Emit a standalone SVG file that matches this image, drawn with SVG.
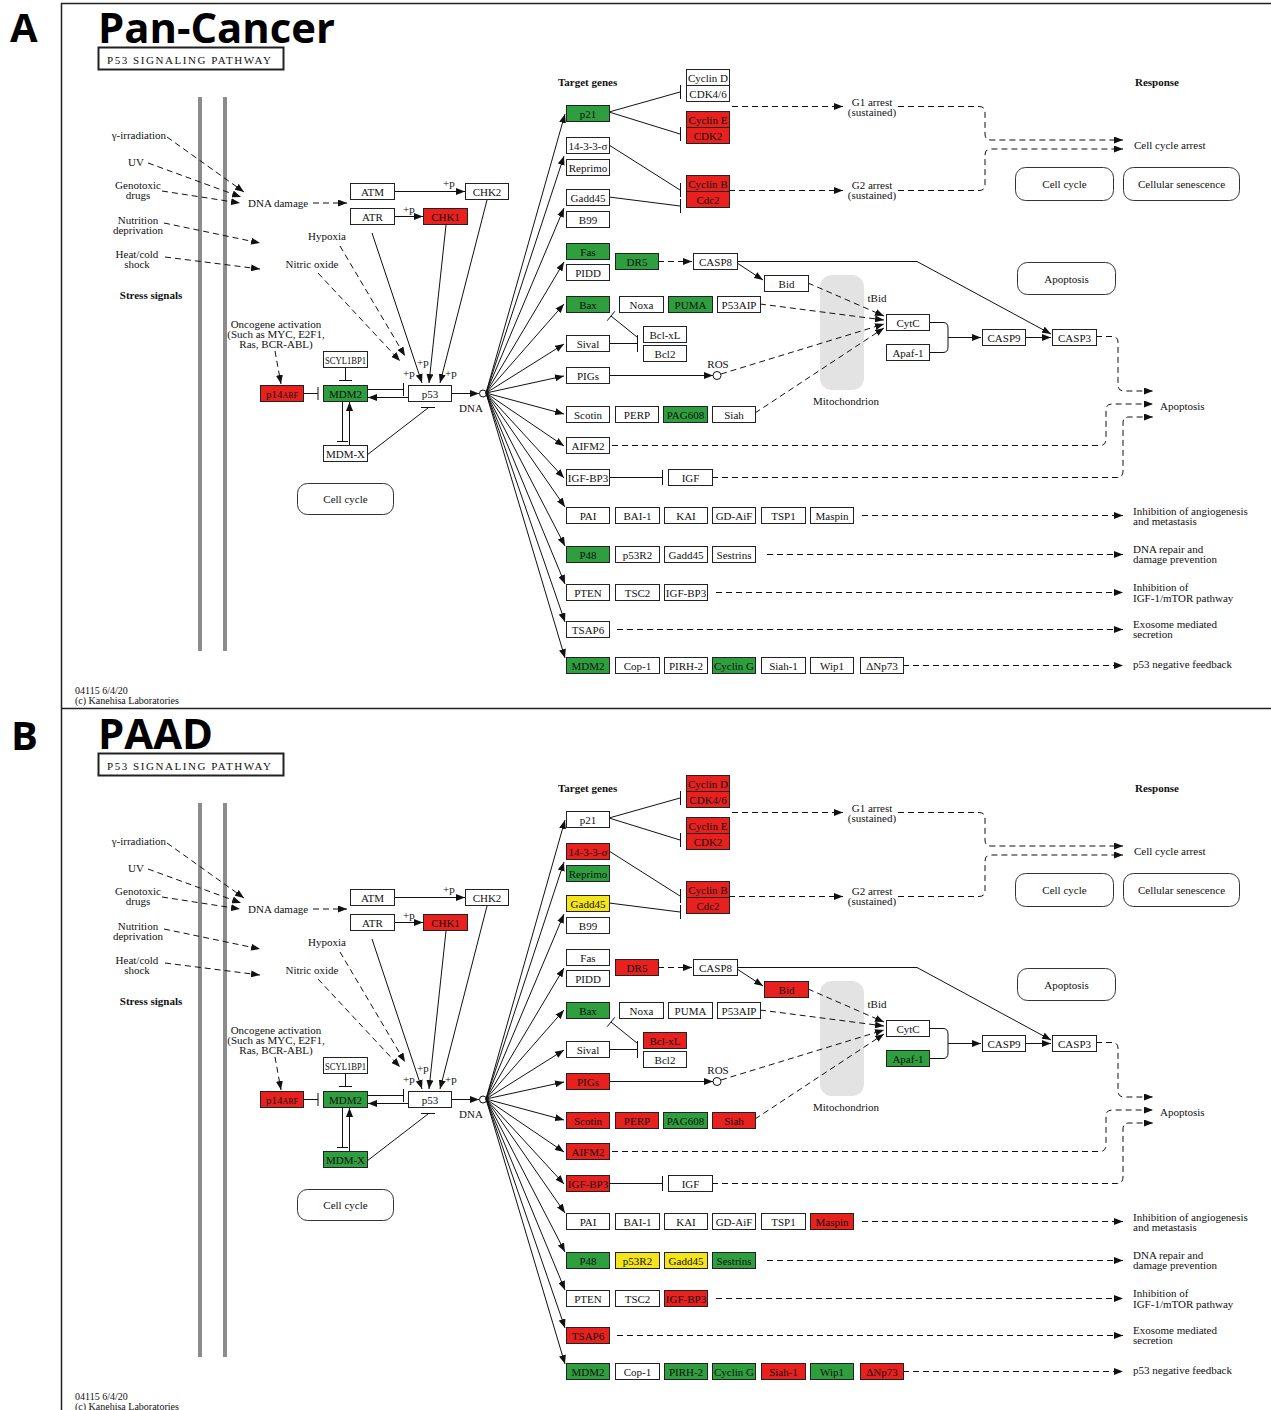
<svg xmlns="http://www.w3.org/2000/svg" width="1271" height="1410" viewBox="0 0 1271 1410">
<defs>
<style>
.t{font-family:"Liberation Serif","Times New Roman",serif;font-size:11px;fill:#111}
.s{font-size:10px}
.c{text-anchor:middle}
.en{text-anchor:end}
.b{font-weight:bold}
.big{font-family:"Open Sans","Liberation Sans",Arial,sans-serif;font-weight:bold;fill:#000}
.w{fill:#fff;stroke:#222;stroke-width:1}
.r{fill:#e8211f;stroke:#222;stroke-width:1}
.g{fill:#2e9e3e;stroke:#222;stroke-width:1}
.y{fill:#f3e41b;stroke:#222;stroke-width:1}
.m{fill:#fff;stroke:#333;stroke-width:1}
.e{fill:none;stroke:#111;stroke-width:1}
.d{stroke-dasharray:6 4}
.a{marker-end:url(#ah)}
.fr{fill:none;stroke:#222;stroke-width:1.5}
.gl{stroke:#8c8c8c;stroke-width:4}
</style>
<marker id="ah" viewBox="0 0 9 7" refX="9" refY="3.5" markerWidth="9" markerHeight="7" markerUnits="userSpaceOnUse" orient="auto"><path d="M0,0 L9,3.5 L0,7 z" fill="#111"/></marker>
</defs>
<rect width="1271" height="1410" fill="#fff"/>
<g id="frame">
<path class="fr" d="M61.5,3 V1410 M61,3.5 H1271 M61,708.5 H1271"/>
</g>

<!-- ================= PANEL A ================= -->
<g id="panelA">
<text class="big" x="10" y="42" font-size="40">A</text>
<text class="big" x="98" y="43" font-size="42" textLength="237" lengthAdjust="spacingAndGlyphs">Pan-Cancer</text>
<g id="a-labels">
<rect x="98.5" y="47.5" width="185" height="22" fill="none" stroke="#222" stroke-width="2"/>
<text class="t" x="107" y="64" font-size="13" textLength="164" lengthAdjust="spacing">P53 SIGNALING PATHWAY</text>
<line class="gl" x1="200" y1="97" x2="200" y2="651"/>
<line class="gl" x1="225" y1="97" x2="225" y2="651"/>
<rect x="820" y="275" width="44" height="115" rx="12" fill="#e3e3e3"/>
<text class="t en" x="166" y="139">γ-irradiation</text>
<text class="t c" x="136" y="166">UV</text>
<text class="t c" x="138" y="189">Genotoxic</text>
<text class="t c" x="138" y="199">drugs</text>
<text class="t c" x="138" y="224">Nutrition</text>
<text class="t c" x="138" y="234">deprivation</text>
<text class="t c" x="137" y="258">Heat/cold</text>
<text class="t c" x="137" y="268">shock</text>
<text class="t c b" x="151" y="299">Stress signals</text>
<text class="t" x="248" y="207">DNA damage</text>
<text class="t c" x="327" y="240">Hypoxia</text>
<text class="t c" x="312" y="268">Nitric oxide</text>
<text class="t" x="443" y="187">+p</text>
<text class="t" x="403" y="213">+p</text>
<text class="t" x="417" y="366">+p</text>
<text class="t" x="403" y="377">+p</text>
<text class="t" x="445" y="377">+p</text>
<text class="t c" x="276" y="328" font-size="10.5">Oncogene activation</text>
<text class="t c" x="276" y="338" font-size="10.5">(Such as MYC, E2F1,</text>
<text class="t c" x="276" y="348" font-size="10.5">Ras, BCR-ABL)</text>
<text class="t c" x="471" y="412">DNA</text>
<text class="t b" x="558" y="86">Target genes</text>
<text class="t c" x="872" y="106">G1 arrest</text>
<text class="t c" x="872" y="116">(sustained)</text>
<text class="t c" x="872" y="189">G2 arrest</text>
<text class="t c" x="872" y="199">(sustained)</text>
<text class="t c b" x="1157" y="86">Response</text>
<text class="t" x="1134" y="149">Cell cycle arrest</text>
<text class="t c" x="877" y="302">tBid</text>
<text class="t c" x="718" y="368">ROS</text>
<text class="t c" x="846" y="405">Mitochondrion</text>
<text class="t" x="1160" y="410">Apoptosis</text>
<text class="t" x="1133" y="515">Inhibition of angiogenesis</text>
<text class="t" x="1133" y="525">and metastasis</text>
<text class="t" x="1133" y="553">DNA repair and</text>
<text class="t" x="1133" y="563">damage prevention</text>
<text class="t" x="1133" y="591">Inhibition of</text>
<text class="t" x="1133" y="602">IGF-1/mTOR pathway</text>
<text class="t" x="1133" y="628">Exosome mediated</text>
<text class="t" x="1133" y="638">secretion</text>
<text class="t" x="1133" y="668">p53 negative feedback</text>
<text class="t s" x="75" y="694">04115 6/4/20</text>
<text class="t s" x="75" y="704">(c) Kanehisa Laboratories</text>
</g>
<g id="a-edges">
<path class="e d a" d="M167,137 L244,192"/>
<path class="e d a" d="M148,163 L241,197"/>
<path class="e d a" d="M162,191 L240,203"/>
<path class="e d a" d="M164,223 L260,243"/>
<path class="e d a" d="M165,257 L260,269"/>
<path class="e d a" d="M313,203 L347,203"/>
<path class="e d a" d="M340,246 L405,356"/>
<path class="e d a" d="M318,273 L400,361"/>
<path class="e d a" d="M275,351 L281,384"/>
<path class="e a" d="M394.5,191.5 H465"/>
<path class="e a" d="M394.5,216.5 H423"/>
<path class="e a" d="M372,233 L422,383"/>
<path class="e a" d="M446,225 L429,383"/>
<path class="e a" d="M487,200 L440,383"/>
<path class="e" d="M303,393.5 H318 M318,387 V400"/>
<path class="e" d="M345.5,367 V380 M339,380.5 H352"/>
<path class="e" d="M367,389.5 H403 M403.5,383 V396"/>
<path class="e a" d="M408,397.5 H368"/>
<path class="e" d="M342.5,401 V441 M337,441.5 H348"/>
<path class="e a" d="M349.5,445 V402"/>
<path class="e" d="M367,455 L428,408 M421,407.5 H435"/>
<path class="e a" d="M451,393.5 H479"/>
<circle cx="483" cy="393.5" r="3.5" fill="#fff" stroke="#111"/>
<path class="e a" d="M486,393 L565,114"/>
<path class="e a" d="M486,393 L564,156"/>
<path class="e a" d="M486,393 L564,208"/>
<path class="e a" d="M486,393 L564,262"/>
<path class="e a" d="M486,393 L564,304"/>
<path class="e a" d="M486,393 L564,344"/>
<path class="e a" d="M486,393 L564,376"/>
<path class="e a" d="M486,393 L564,414"/>
<path class="e a" d="M486,393 L564,446"/>
<path class="e a" d="M486,393 L564,478"/>
<path class="e a" d="M486,393 L565,507"/>
<path class="e a" d="M486,393 L565,546"/>
<path class="e a" d="M486,393 L565,584"/>
<path class="e a" d="M486,393 L565,622"/>
<path class="e a" d="M486,393 L565,658"/>
<path class="e" d="M609,112 L680,92 M680.5,85 V99"/>
<path class="e" d="M609,112 L680,134 M680.5,127 V141"/>
<path class="e" d="M609,145 L680,190 M680.5,183 V197"/>
<path class="e" d="M609,197 L680,206 M680.5,199 V213"/>
<path class="e d a" d="M732,106.5 H843"/>
<path class="e d a" d="M729,190.5 H843"/>
<path class="e d a" d="M898,106.5 H979 Q985,106.5 985,112 V134 Q985,140 991,140 H1123"/>
<path class="e d a" d="M898,190.5 H979 Q985,190.5 985,185 V155 Q985,149 991,149 H1123"/>
<path class="e d a" d="M658,261.5 H692"/>
<path class="e a" d="M737,263 L763,280"/>
<path class="e a" d="M737,261.5 H917 L1051,334"/>
<path class="e d a" d="M808,283 L884,316"/>
<path class="e d a" d="M760,304 L884,320"/>
<path class="e d a" d="M721,374 L884,324"/>
<path class="e d a" d="M755,413 L884,328"/>
<path class="e" d="M609,343.5 H637 M637.5,335 V352"/>
<path class="e" d="M637,337 L611,316 M614.8,311.3 L607.2,320.7"/>
<path class="e a" d="M609,375.5 H713"/>
<circle cx="717" cy="375.5" r="4" fill="#fff" stroke="#111"/>
<path class="e" d="M929,322.5 H943 Q948,322.5 948,328 V337 M929,352.5 H943 Q948,352.5 948,347 V337"/>
<path class="e a" d="M948,337.5 H981"/>
<path class="e a" d="M1025,337.5 H1051"/>
<path class="e d a" d="M1096,336.5 H1112 Q1118,336.5 1118,342 V385 Q1118,391 1124,391 H1153"/>
<path class="e d a" d="M612,445.5 H1100 Q1106,445.5 1106,439 V410 Q1106,404 1112,404 H1153"/>
<path class="e" d="M609,477.5 H662 M662.5,470 V485"/>
<path class="e d a" d="M712,477.5 H1117 Q1123,477.5 1123,471 V423 Q1123,417 1129,417 H1153"/>
<path class="e d a" d="M862,515.5 H1123"/>
<path class="e d a" d="M767,554.5 H1123"/>
<path class="e d a" d="M716,592.5 H1123"/>
<path class="e d a" d="M617,629.5 H1123"/>
<path class="e d a" d="M903,665.5 H1123"/>
</g>
<g id="a-nodes">
<g id="a-atm"><rect class="w" x="350.5" y="183.5" width="44" height="16"/><text class="t c" x="372.5" y="195.5">ATM</text></g>
<g id="a-atr"><rect class="w" x="350.5" y="208.5" width="44" height="16"/><text class="t c" x="372.5" y="220.5">ATR</text></g>
<g id="a-chk2"><rect class="w" x="465.5" y="183.5" width="43" height="16"/><text class="t c" x="487" y="195.5">CHK2</text></g>
<g id="a-chk1"><rect class="r" x="423.5" y="208.5" width="44" height="16"/><text class="t c" x="445.5" y="220.5">CHK1</text></g>
<g id="a-scyl1bp1"><rect class="w" x="323.5" y="351.5" width="44" height="16"/><text class="t c" x="345.5" y="363.5" textLength="41" lengthAdjust="spacingAndGlyphs">SCYL1BP1</text></g>
<g id="a-p14arf"><rect class="r" x="260.5" y="385.5" width="43" height="16"/><text class="t c" x="282" y="397.5">p14<tspan font-size="8">ARF</tspan></text></g>
<g id="a-mdm2-l"><rect class="g" x="323.5" y="385.5" width="44" height="16"/><text class="t c" x="345.5" y="397.5">MDM2</text></g>
<g id="a-p53"><rect class="w" x="408.5" y="385.5" width="43" height="16"/><text class="t c" x="430" y="397.5">p53</text></g>
<g id="a-mdmx"><rect class="w" x="323.5" y="445.5" width="44" height="16"/><text class="t c" x="345.5" y="457.5">MDM-X</text></g>
<g id="a-cellcycle1"><rect class="m" x="297.5" y="483.5" width="96" height="31" rx="10"/><text class="t c" x="345.5" y="503">Cell cycle</text></g>
<g id="a-p21"><rect class="g" x="566.5" y="105.5" width="43" height="16"/><text class="t c" x="588" y="117.5">p21</text></g>
<g id="a-cycd"><rect class="w" x="686.5" y="69.5" width="43" height="16"/><text class="t c" x="708" y="81.5">Cyclin D</text></g>
<g id="a-cdk46"><rect class="w" x="686.5" y="85.5" width="43" height="16"/><text class="t c" x="708" y="97.5">CDK4/6</text></g>
<g id="a-cyce"><rect class="r" x="686.5" y="111.5" width="43" height="16"/><text class="t c" x="708" y="123.5">Cyclin E</text></g>
<g id="a-cdk2"><rect class="r" x="686.5" y="127.5" width="43" height="16"/><text class="t c" x="708" y="139.5">CDK2</text></g>
<g id="a-1433"><rect class="w" x="566.5" y="137.5" width="43" height="16"/><text class="t c" x="588" y="149.5">14-3-3-σ</text></g>
<g id="a-reprimo"><rect class="w" x="566.5" y="159.5" width="43" height="16"/><text class="t c" x="588" y="171.5">Reprimo</text></g>
<g id="a-gadd45"><rect class="w" x="566.5" y="189.5" width="43" height="16"/><text class="t c" x="588" y="201.5">Gadd45</text></g>
<g id="a-b99"><rect class="w" x="566.5" y="211.5" width="43" height="16"/><text class="t c" x="588" y="223.5">B99</text></g>
<g id="a-cycb"><rect class="r" x="686.5" y="175.5" width="43" height="16"/><text class="t c" x="708" y="187.5">Cyclin B</text></g>
<g id="a-cdc2"><rect class="r" x="686.5" y="191.5" width="43" height="16"/><text class="t c" x="708" y="203.5">Cdc2</text></g>
<g id="a-fas"><rect class="g" x="566.5" y="243.5" width="43" height="16"/><text class="t c" x="588" y="255.5">Fas</text></g>
<g id="a-pidd"><rect class="w" x="566.5" y="264.5" width="43" height="16"/><text class="t c" x="588" y="276.5">PIDD</text></g>
<g id="a-dr5"><rect class="g" x="615.5" y="253.5" width="43" height="16"/><text class="t c" x="637" y="265.5">DR5</text></g>
<g id="a-casp8"><rect class="w" x="693.5" y="253.5" width="44" height="16"/><text class="t c" x="715.5" y="265.5">CASP8</text></g>
<g id="a-bid"><rect class="w" x="764.5" y="275.5" width="44" height="16"/><text class="t c" x="786.5" y="287.5">Bid</text></g>
<g id="a-bax"><rect class="g" x="566.5" y="296.5" width="43" height="16"/><text class="t c" x="588" y="308.5">Bax</text></g>
<g id="a-noxa"><rect class="w" x="619.5" y="296.5" width="44" height="16"/><text class="t c" x="641.5" y="308.5">Noxa</text></g>
<g id="a-puma"><rect class="g" x="668.5" y="296.5" width="44" height="16"/><text class="t c" x="690.5" y="308.5">PUMA</text></g>
<g id="a-p53aip"><rect class="w" x="717.5" y="296.5" width="43" height="16"/><text class="t c" x="739" y="308.5">P53AIP</text></g>
<g id="a-bclxl"><rect class="w" x="643.5" y="326.5" width="43" height="16"/><text class="t c" x="665" y="338.5">Bcl-xL</text></g>
<g id="a-bcl2"><rect class="w" x="643.5" y="345.5" width="43" height="16"/><text class="t c" x="665" y="357.5">Bcl2</text></g>
<g id="a-sival"><rect class="w" x="566.5" y="335.5" width="43" height="16"/><text class="t c" x="588" y="347.5">Sival</text></g>
<g id="a-pigs"><rect class="w" x="566.5" y="367.5" width="43" height="16"/><text class="t c" x="588" y="379.5">PIGs</text></g>
<g id="a-scotin"><rect class="w" x="566.5" y="406.5" width="43" height="16"/><text class="t c" x="588" y="418.5">Scotin</text></g>
<g id="a-perp"><rect class="w" x="615.5" y="406.5" width="43" height="16"/><text class="t c" x="637" y="418.5">PERP</text></g>
<g id="a-pag608"><rect class="g" x="663.5" y="406.5" width="44" height="16"/><text class="t c" x="685.5" y="418.5">PAG608</text></g>
<g id="a-siah"><rect class="w" x="712.5" y="406.5" width="43" height="16"/><text class="t c" x="734" y="418.5">Siah</text></g>
<g id="a-aifm2"><rect class="w" x="566.5" y="437.5" width="43" height="16"/><text class="t c" x="588" y="449.5">AIFM2</text></g>
<g id="a-igfbp3"><rect class="w" x="566.5" y="469.5" width="43" height="16"/><text class="t c" x="588" y="481.5">IGF-BP3</text></g>
<g id="a-igf"><rect class="w" x="668.5" y="469.5" width="44" height="16"/><text class="t c" x="690.5" y="481.5">IGF</text></g>
<g id="a-cytc"><rect class="w" x="886.5" y="314.5" width="43" height="16"/><text class="t c" x="908" y="326.5">CytC</text></g>
<g id="a-apaf1"><rect class="w" x="886.5" y="344.5" width="43" height="16"/><text class="t c" x="908" y="356.5">Apaf-1</text></g>
<g id="a-casp9"><rect class="w" x="982.5" y="329.5" width="43" height="16"/><text class="t c" x="1004" y="341.5">CASP9</text></g>
<g id="a-casp3"><rect class="w" x="1052.5" y="329.5" width="44" height="16"/><text class="t c" x="1074.5" y="341.5">CASP3</text></g>
<g id="a-cellcycle2"><rect class="m" x="1015.5" y="167.5" width="98" height="33" rx="10"/><text class="t c" x="1064.5" y="188">Cell cycle</text></g>
<g id="a-senescence"><rect class="m" x="1123.5" y="167.5" width="116" height="33" rx="10"/><text class="t c" x="1181.5" y="188">Cellular senescence</text></g>
<g id="a-apoptosis"><rect class="m" x="1017.5" y="262.5" width="98" height="32" rx="10"/><text class="t c" x="1066.5" y="283">Apoptosis</text></g>
<g id="a-pai"><rect class="w" x="566.5" y="507.5" width="43" height="16"/><text class="t c" x="588" y="519.5">PAI</text></g>
<g id="a-bai1"><rect class="w" x="615.5" y="507.5" width="44" height="16"/><text class="t c" x="637.5" y="519.5">BAI-1</text></g>
<g id="a-kai"><rect class="w" x="664.5" y="507.5" width="43" height="16"/><text class="t c" x="686" y="519.5">KAI</text></g>
<g id="a-gdaif"><rect class="w" x="712.5" y="507.5" width="43" height="16"/><text class="t c" x="734" y="519.5">GD-AiF</text></g>
<g id="a-tsp1"><rect class="w" x="761.5" y="507.5" width="44" height="16"/><text class="t c" x="783.5" y="519.5">TSP1</text></g>
<g id="a-maspin"><rect class="w" x="810.5" y="507.5" width="43" height="16"/><text class="t c" x="832" y="519.5">Maspin</text></g>
<g id="a-p48"><rect class="g" x="566.5" y="546.5" width="43" height="16"/><text class="t c" x="588" y="558.5">P48</text></g>
<g id="a-p53r2"><rect class="w" x="615.5" y="546.5" width="44" height="16"/><text class="t c" x="637.5" y="558.5">p53R2</text></g>
<g id="a-gadd45b"><rect class="w" x="664.5" y="546.5" width="43" height="16"/><text class="t c" x="686" y="558.5">Gadd45</text></g>
<g id="a-sestrins"><rect class="w" x="712.5" y="546.5" width="43" height="16"/><text class="t c" x="734" y="558.5">Sestrins</text></g>
<g id="a-pten"><rect class="w" x="566.5" y="584.5" width="43" height="16"/><text class="t c" x="588" y="596.5">PTEN</text></g>
<g id="a-tsc2"><rect class="w" x="615.5" y="584.5" width="44" height="16"/><text class="t c" x="637.5" y="596.5">TSC2</text></g>
<g id="a-igfbp3b"><rect class="w" x="664.5" y="584.5" width="43" height="16"/><text class="t c" x="686" y="596.5">IGF-BP3</text></g>
<g id="a-tsap6"><rect class="w" x="566.5" y="621.5" width="43" height="16"/><text class="t c" x="588" y="633.5">TSAP6</text></g>
<g id="a-mdm2-r"><rect class="g" x="566.5" y="657.5" width="43" height="16"/><text class="t c" x="588" y="669.5">MDM2</text></g>
<g id="a-cop1"><rect class="w" x="615.5" y="657.5" width="44" height="16"/><text class="t c" x="637.5" y="669.5">Cop-1</text></g>
<g id="a-pirh2"><rect class="w" x="664.5" y="657.5" width="43" height="16"/><text class="t c" x="686" y="669.5">PIRH-2</text></g>
<g id="a-cycg"><rect class="g" x="712.5" y="657.5" width="43" height="16"/><text class="t c" x="734" y="669.5">Cyclin G</text></g>
<g id="a-siah1"><rect class="w" x="761.5" y="657.5" width="44" height="16"/><text class="t c" x="783.5" y="669.5">Siah-1</text></g>
<g id="a-wip1"><rect class="w" x="810.5" y="657.5" width="43" height="16"/><text class="t c" x="832" y="669.5">Wip1</text></g>
<g id="a-dnp73"><rect class="w" x="860.5" y="657.5" width="43" height="16"/><text class="t c" x="882" y="669.5">ΔNp73</text></g>
</g>
</g>

<!-- ================= PANEL B ================= -->
<g id="panelB" transform="translate(0,706)">
<text class="big" x="11" y="44" font-size="40">B</text>
<text class="big" x="98" y="43" font-size="42" textLength="115" lengthAdjust="spacingAndGlyphs">PAAD</text>
<g id="b-labels">
<rect x="98.5" y="47.5" width="185" height="22" fill="none" stroke="#222" stroke-width="2"/>
<text class="t" x="107" y="64" font-size="13" textLength="164" lengthAdjust="spacing">P53 SIGNALING PATHWAY</text>
<line class="gl" x1="200" y1="97" x2="200" y2="651"/>
<line class="gl" x1="225" y1="97" x2="225" y2="651"/>
<rect x="820" y="275" width="44" height="115" rx="12" fill="#e3e3e3"/>
<text class="t en" x="166" y="139">γ-irradiation</text>
<text class="t c" x="136" y="166">UV</text>
<text class="t c" x="138" y="189">Genotoxic</text>
<text class="t c" x="138" y="199">drugs</text>
<text class="t c" x="138" y="224">Nutrition</text>
<text class="t c" x="138" y="234">deprivation</text>
<text class="t c" x="137" y="258">Heat/cold</text>
<text class="t c" x="137" y="268">shock</text>
<text class="t c b" x="151" y="299">Stress signals</text>
<text class="t" x="248" y="207">DNA damage</text>
<text class="t c" x="327" y="240">Hypoxia</text>
<text class="t c" x="312" y="268">Nitric oxide</text>
<text class="t" x="443" y="187">+p</text>
<text class="t" x="403" y="213">+p</text>
<text class="t" x="417" y="366">+p</text>
<text class="t" x="403" y="377">+p</text>
<text class="t" x="445" y="377">+p</text>
<text class="t c" x="276" y="328" font-size="10.5">Oncogene activation</text>
<text class="t c" x="276" y="338" font-size="10.5">(Such as MYC, E2F1,</text>
<text class="t c" x="276" y="348" font-size="10.5">Ras, BCR-ABL)</text>
<text class="t c" x="471" y="412">DNA</text>
<text class="t b" x="558" y="86">Target genes</text>
<text class="t c" x="872" y="106">G1 arrest</text>
<text class="t c" x="872" y="116">(sustained)</text>
<text class="t c" x="872" y="189">G2 arrest</text>
<text class="t c" x="872" y="199">(sustained)</text>
<text class="t c b" x="1157" y="86">Response</text>
<text class="t" x="1134" y="149">Cell cycle arrest</text>
<text class="t c" x="877" y="302">tBid</text>
<text class="t c" x="718" y="368">ROS</text>
<text class="t c" x="846" y="405">Mitochondrion</text>
<text class="t" x="1160" y="410">Apoptosis</text>
<text class="t" x="1133" y="515">Inhibition of angiogenesis</text>
<text class="t" x="1133" y="525">and metastasis</text>
<text class="t" x="1133" y="553">DNA repair and</text>
<text class="t" x="1133" y="563">damage prevention</text>
<text class="t" x="1133" y="591">Inhibition of</text>
<text class="t" x="1133" y="602">IGF-1/mTOR pathway</text>
<text class="t" x="1133" y="628">Exosome mediated</text>
<text class="t" x="1133" y="638">secretion</text>
<text class="t" x="1133" y="668">p53 negative feedback</text>
<text class="t s" x="75" y="694">04115 6/4/20</text>
<text class="t s" x="75" y="704">(c) Kanehisa Laboratories</text>
</g>
<g id="b-edges">
<path class="e d a" d="M167,137 L244,192"/>
<path class="e d a" d="M148,163 L241,197"/>
<path class="e d a" d="M162,191 L240,203"/>
<path class="e d a" d="M164,223 L260,243"/>
<path class="e d a" d="M165,257 L260,269"/>
<path class="e d a" d="M313,203 L347,203"/>
<path class="e d a" d="M340,246 L405,356"/>
<path class="e d a" d="M318,273 L400,361"/>
<path class="e d a" d="M275,351 L281,384"/>
<path class="e a" d="M394.5,191.5 H465"/>
<path class="e a" d="M394.5,216.5 H423"/>
<path class="e a" d="M372,233 L422,383"/>
<path class="e a" d="M446,225 L429,383"/>
<path class="e a" d="M487,200 L440,383"/>
<path class="e" d="M303,393.5 H318 M318,387 V400"/>
<path class="e" d="M345.5,367 V380 M339,380.5 H352"/>
<path class="e" d="M367,389.5 H403 M403.5,383 V396"/>
<path class="e a" d="M408,397.5 H368"/>
<path class="e" d="M342.5,401 V441 M337,441.5 H348"/>
<path class="e a" d="M349.5,445 V402"/>
<path class="e" d="M367,455 L428,408 M421,407.5 H435"/>
<path class="e a" d="M451,393.5 H479"/>
<circle cx="483" cy="393.5" r="3.5" fill="#fff" stroke="#111"/>
<path class="e a" d="M486,393 L565,114"/>
<path class="e a" d="M486,393 L564,156"/>
<path class="e a" d="M486,393 L564,208"/>
<path class="e a" d="M486,393 L564,262"/>
<path class="e a" d="M486,393 L564,304"/>
<path class="e a" d="M486,393 L564,344"/>
<path class="e a" d="M486,393 L564,376"/>
<path class="e a" d="M486,393 L564,414"/>
<path class="e a" d="M486,393 L564,446"/>
<path class="e a" d="M486,393 L564,478"/>
<path class="e a" d="M486,393 L565,507"/>
<path class="e a" d="M486,393 L565,546"/>
<path class="e a" d="M486,393 L565,584"/>
<path class="e a" d="M486,393 L565,622"/>
<path class="e a" d="M486,393 L565,658"/>
<path class="e" d="M609,112 L680,92 M680.5,85 V99"/>
<path class="e" d="M609,112 L680,134 M680.5,127 V141"/>
<path class="e" d="M609,145 L680,190 M680.5,183 V197"/>
<path class="e" d="M609,197 L680,206 M680.5,199 V213"/>
<path class="e d a" d="M732,106.5 H843"/>
<path class="e d a" d="M729,190.5 H843"/>
<path class="e d a" d="M898,106.5 H979 Q985,106.5 985,112 V134 Q985,140 991,140 H1123"/>
<path class="e d a" d="M898,190.5 H979 Q985,190.5 985,185 V155 Q985,149 991,149 H1123"/>
<path class="e d a" d="M658,261.5 H692"/>
<path class="e a" d="M737,263 L763,280"/>
<path class="e a" d="M737,261.5 H917 L1051,334"/>
<path class="e d a" d="M808,283 L884,316"/>
<path class="e d a" d="M760,304 L884,320"/>
<path class="e d a" d="M721,374 L884,324"/>
<path class="e d a" d="M755,413 L884,328"/>
<path class="e" d="M609,343.5 H637 M637.5,335 V352"/>
<path class="e" d="M637,337 L611,316 M614.8,311.3 L607.2,320.7"/>
<path class="e a" d="M609,375.5 H713"/>
<circle cx="717" cy="375.5" r="4" fill="#fff" stroke="#111"/>
<path class="e" d="M929,322.5 H943 Q948,322.5 948,328 V337 M929,352.5 H943 Q948,352.5 948,347 V337"/>
<path class="e a" d="M948,337.5 H981"/>
<path class="e a" d="M1025,337.5 H1051"/>
<path class="e d a" d="M1096,336.5 H1112 Q1118,336.5 1118,342 V385 Q1118,391 1124,391 H1153"/>
<path class="e d a" d="M612,445.5 H1100 Q1106,445.5 1106,439 V410 Q1106,404 1112,404 H1153"/>
<path class="e" d="M609,477.5 H662 M662.5,470 V485"/>
<path class="e d a" d="M712,477.5 H1117 Q1123,477.5 1123,471 V423 Q1123,417 1129,417 H1153"/>
<path class="e d a" d="M862,515.5 H1123"/>
<path class="e d a" d="M767,554.5 H1123"/>
<path class="e d a" d="M716,592.5 H1123"/>
<path class="e d a" d="M617,629.5 H1123"/>
<path class="e d a" d="M903,665.5 H1123"/>
</g>
<g id="b-nodes">
<g id="b-atm"><rect class="w" x="350.5" y="183.5" width="44" height="16"/><text class="t c" x="372.5" y="195.5">ATM</text></g>
<g id="b-atr"><rect class="w" x="350.5" y="208.5" width="44" height="16"/><text class="t c" x="372.5" y="220.5">ATR</text></g>
<g id="b-chk2"><rect class="w" x="465.5" y="183.5" width="43" height="16"/><text class="t c" x="487" y="195.5">CHK2</text></g>
<g id="b-chk1"><rect class="r" x="423.5" y="208.5" width="44" height="16"/><text class="t c" x="445.5" y="220.5">CHK1</text></g>
<g id="b-scyl1bp1"><rect class="w" x="323.5" y="351.5" width="44" height="16"/><text class="t c" x="345.5" y="363.5" textLength="41" lengthAdjust="spacingAndGlyphs">SCYL1BP1</text></g>
<g id="b-p14arf"><rect class="r" x="260.5" y="385.5" width="43" height="16"/><text class="t c" x="282" y="397.5">p14<tspan font-size="8">ARF</tspan></text></g>
<g id="b-mdm2-l"><rect class="g" x="323.5" y="385.5" width="44" height="16"/><text class="t c" x="345.5" y="397.5">MDM2</text></g>
<g id="b-p53"><rect class="w" x="408.5" y="385.5" width="43" height="16"/><text class="t c" x="430" y="397.5">p53</text></g>
<g id="b-mdmx"><rect class="g" x="323.5" y="445.5" width="44" height="16"/><text class="t c" x="345.5" y="457.5">MDM-X</text></g>
<g id="b-cellcycle1"><rect class="m" x="297.5" y="483.5" width="96" height="31" rx="10"/><text class="t c" x="345.5" y="503">Cell cycle</text></g>
<g id="b-p21"><rect class="w" x="566.5" y="105.5" width="43" height="16"/><text class="t c" x="588" y="117.5">p21</text></g>
<g id="b-cycd"><rect class="r" x="686.5" y="69.5" width="43" height="16"/><text class="t c" x="708" y="81.5">Cyclin D</text></g>
<g id="b-cdk46"><rect class="r" x="686.5" y="85.5" width="43" height="16"/><text class="t c" x="708" y="97.5">CDK4/6</text></g>
<g id="b-cyce"><rect class="r" x="686.5" y="111.5" width="43" height="16"/><text class="t c" x="708" y="123.5">Cyclin E</text></g>
<g id="b-cdk2"><rect class="r" x="686.5" y="127.5" width="43" height="16"/><text class="t c" x="708" y="139.5">CDK2</text></g>
<g id="b-1433"><rect class="r" x="566.5" y="137.5" width="43" height="16"/><text class="t c" x="588" y="149.5">14-3-3-σ</text></g>
<g id="b-reprimo"><rect class="g" x="566.5" y="159.5" width="43" height="16"/><text class="t c" x="588" y="171.5">Reprimo</text></g>
<g id="b-gadd45"><rect class="y" x="566.5" y="189.5" width="43" height="16"/><text class="t c" x="588" y="201.5">Gadd45</text></g>
<g id="b-b99"><rect class="w" x="566.5" y="211.5" width="43" height="16"/><text class="t c" x="588" y="223.5">B99</text></g>
<g id="b-cycb"><rect class="r" x="686.5" y="175.5" width="43" height="16"/><text class="t c" x="708" y="187.5">Cyclin B</text></g>
<g id="b-cdc2"><rect class="r" x="686.5" y="191.5" width="43" height="16"/><text class="t c" x="708" y="203.5">Cdc2</text></g>
<g id="b-fas"><rect class="w" x="566.5" y="243.5" width="43" height="16"/><text class="t c" x="588" y="255.5">Fas</text></g>
<g id="b-pidd"><rect class="w" x="566.5" y="264.5" width="43" height="16"/><text class="t c" x="588" y="276.5">PIDD</text></g>
<g id="b-dr5"><rect class="r" x="615.5" y="253.5" width="43" height="16"/><text class="t c" x="637" y="265.5">DR5</text></g>
<g id="b-casp8"><rect class="w" x="693.5" y="253.5" width="44" height="16"/><text class="t c" x="715.5" y="265.5">CASP8</text></g>
<g id="b-bid"><rect class="r" x="764.5" y="275.5" width="44" height="16"/><text class="t c" x="786.5" y="287.5">Bid</text></g>
<g id="b-bax"><rect class="g" x="566.5" y="296.5" width="43" height="16"/><text class="t c" x="588" y="308.5">Bax</text></g>
<g id="b-noxa"><rect class="w" x="619.5" y="296.5" width="44" height="16"/><text class="t c" x="641.5" y="308.5">Noxa</text></g>
<g id="b-puma"><rect class="w" x="668.5" y="296.5" width="44" height="16"/><text class="t c" x="690.5" y="308.5">PUMA</text></g>
<g id="b-p53aip"><rect class="w" x="717.5" y="296.5" width="43" height="16"/><text class="t c" x="739" y="308.5">P53AIP</text></g>
<g id="b-bclxl"><rect class="r" x="643.5" y="326.5" width="43" height="16"/><text class="t c" x="665" y="338.5">Bcl-xL</text></g>
<g id="b-bcl2"><rect class="w" x="643.5" y="345.5" width="43" height="16"/><text class="t c" x="665" y="357.5">Bcl2</text></g>
<g id="b-sival"><rect class="w" x="566.5" y="335.5" width="43" height="16"/><text class="t c" x="588" y="347.5">Sival</text></g>
<g id="b-pigs"><rect class="r" x="566.5" y="367.5" width="43" height="16"/><text class="t c" x="588" y="379.5">PIGs</text></g>
<g id="b-scotin"><rect class="r" x="566.5" y="406.5" width="43" height="16"/><text class="t c" x="588" y="418.5">Scotin</text></g>
<g id="b-perp"><rect class="r" x="615.5" y="406.5" width="43" height="16"/><text class="t c" x="637" y="418.5">PERP</text></g>
<g id="b-pag608"><rect class="g" x="663.5" y="406.5" width="44" height="16"/><text class="t c" x="685.5" y="418.5">PAG608</text></g>
<g id="b-siah"><rect class="r" x="712.5" y="406.5" width="43" height="16"/><text class="t c" x="734" y="418.5">Siah</text></g>
<g id="b-aifm2"><rect class="r" x="566.5" y="437.5" width="43" height="16"/><text class="t c" x="588" y="449.5">AIFM2</text></g>
<g id="b-igfbp3"><rect class="r" x="566.5" y="469.5" width="43" height="16"/><text class="t c" x="588" y="481.5">IGF-BP3</text></g>
<g id="b-igf"><rect class="w" x="668.5" y="469.5" width="44" height="16"/><text class="t c" x="690.5" y="481.5">IGF</text></g>
<g id="b-cytc"><rect class="w" x="886.5" y="314.5" width="43" height="16"/><text class="t c" x="908" y="326.5">CytC</text></g>
<g id="b-apaf1"><rect class="g" x="886.5" y="344.5" width="43" height="16"/><text class="t c" x="908" y="356.5">Apaf-1</text></g>
<g id="b-casp9"><rect class="w" x="982.5" y="329.5" width="43" height="16"/><text class="t c" x="1004" y="341.5">CASP9</text></g>
<g id="b-casp3"><rect class="w" x="1052.5" y="329.5" width="44" height="16"/><text class="t c" x="1074.5" y="341.5">CASP3</text></g>
<g id="b-cellcycle2"><rect class="m" x="1015.5" y="167.5" width="98" height="33" rx="10"/><text class="t c" x="1064.5" y="188">Cell cycle</text></g>
<g id="b-senescence"><rect class="m" x="1123.5" y="167.5" width="116" height="33" rx="10"/><text class="t c" x="1181.5" y="188">Cellular senescence</text></g>
<g id="b-apoptosis"><rect class="m" x="1017.5" y="262.5" width="98" height="32" rx="10"/><text class="t c" x="1066.5" y="283">Apoptosis</text></g>
<g id="b-pai"><rect class="w" x="566.5" y="507.5" width="43" height="16"/><text class="t c" x="588" y="519.5">PAI</text></g>
<g id="b-bai1"><rect class="w" x="615.5" y="507.5" width="44" height="16"/><text class="t c" x="637.5" y="519.5">BAI-1</text></g>
<g id="b-kai"><rect class="w" x="664.5" y="507.5" width="43" height="16"/><text class="t c" x="686" y="519.5">KAI</text></g>
<g id="b-gdaif"><rect class="w" x="712.5" y="507.5" width="43" height="16"/><text class="t c" x="734" y="519.5">GD-AiF</text></g>
<g id="b-tsp1"><rect class="w" x="761.5" y="507.5" width="44" height="16"/><text class="t c" x="783.5" y="519.5">TSP1</text></g>
<g id="b-maspin"><rect class="r" x="810.5" y="507.5" width="43" height="16"/><text class="t c" x="832" y="519.5">Maspin</text></g>
<g id="b-p48"><rect class="g" x="566.5" y="546.5" width="43" height="16"/><text class="t c" x="588" y="558.5">P48</text></g>
<g id="b-p53r2"><rect class="y" x="615.5" y="546.5" width="44" height="16"/><text class="t c" x="637.5" y="558.5">p53R2</text></g>
<g id="b-gadd45b"><rect class="y" x="664.5" y="546.5" width="43" height="16"/><text class="t c" x="686" y="558.5">Gadd45</text></g>
<g id="b-sestrins"><rect class="g" x="712.5" y="546.5" width="43" height="16"/><text class="t c" x="734" y="558.5">Sestrins</text></g>
<g id="b-pten"><rect class="w" x="566.5" y="584.5" width="43" height="16"/><text class="t c" x="588" y="596.5">PTEN</text></g>
<g id="b-tsc2"><rect class="w" x="615.5" y="584.5" width="44" height="16"/><text class="t c" x="637.5" y="596.5">TSC2</text></g>
<g id="b-igfbp3b"><rect class="r" x="664.5" y="584.5" width="43" height="16"/><text class="t c" x="686" y="596.5">IGF-BP3</text></g>
<g id="b-tsap6"><rect class="r" x="566.5" y="621.5" width="43" height="16"/><text class="t c" x="588" y="633.5">TSAP6</text></g>
<g id="b-mdm2-r"><rect class="g" x="566.5" y="657.5" width="43" height="16"/><text class="t c" x="588" y="669.5">MDM2</text></g>
<g id="b-cop1"><rect class="w" x="615.5" y="657.5" width="44" height="16"/><text class="t c" x="637.5" y="669.5">Cop-1</text></g>
<g id="b-pirh2"><rect class="g" x="664.5" y="657.5" width="43" height="16"/><text class="t c" x="686" y="669.5">PIRH-2</text></g>
<g id="b-cycg"><rect class="g" x="712.5" y="657.5" width="43" height="16"/><text class="t c" x="734" y="669.5">Cyclin G</text></g>
<g id="b-siah1"><rect class="r" x="761.5" y="657.5" width="44" height="16"/><text class="t c" x="783.5" y="669.5">Siah-1</text></g>
<g id="b-wip1"><rect class="g" x="810.5" y="657.5" width="43" height="16"/><text class="t c" x="832" y="669.5">Wip1</text></g>
<g id="b-dnp73"><rect class="r" x="860.5" y="657.5" width="43" height="16"/><text class="t c" x="882" y="669.5">ΔNp73</text></g>
</g>
</g>
</svg>
